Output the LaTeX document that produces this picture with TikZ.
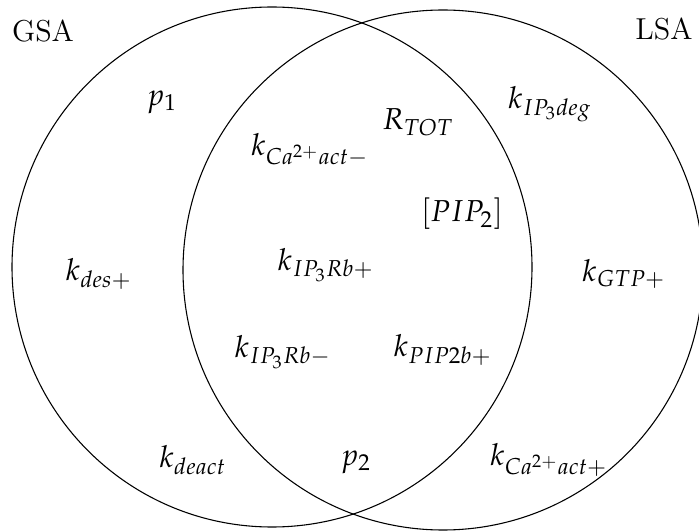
\documentclass[tikz,border=0pt]{standalone}
\usepackage{amsmath,amssymb}
\usepackage{mathpazo}
\usepackage{tikz}
\usetikzlibrary{positioning}

\begin{document}
\begin{tikzpicture}[
  x=0.37pt, y=-0.37pt,
  setline/.style = {draw=black, line width=0.4pt},
  par/.style     = {inner sep=1pt, font=\fontsize{11.2}{13}\selectfont},
  setname/.style = {inner sep=1pt, font=\fontsize{11.2}{13}\selectfont}
]
\useasboundingbox (0,0) rectangle (699,532);
% the two sets
\coordinate (gsac) at (272,267);
\coordinate (lsac) at (443,270);
\draw[setline] (gsac) circle[radius=260];
\draw[setline] (lsac) circle[radius=260];
\node[setname] (gsa) at (43,31) {GSA};
\node[setname] (lsa) at (664,29) {LSA};
% GSA only
\node[par] (p1)    at (162,102) {$p_1$};
\node[par] (kdes)  at (99,274)  {$k_{des+}$};
\node[par] (kdeact) at (193,460) {$k_{deact}$};
% both
\node[par] (rtot)  at (418,122) {$R_{TOT}$};
\node[par] (kcam)  at (310,150) {$k_{Ca^{2+}act-}$};
\node[par] (pip)   at (462,214) {$[PIP_2]$};
\node[par] (kipbp) at (326,265) {$k_{IP_3Rb+}$};
\node[par] (kipbm) at (283,352) {$k_{IP_3Rb-}$};
\node[par] (kpip)  at (443,350) {$k_{PIP2b+}$};
\node[par] (p2)    at (356,462) {$p_2$};
% LSA only
\node[par] (kdeg)  at (550,104) {$k_{IP_3deg}$};
\node[par] (kgtp)  at (624,274) {$k_{GTP+}$};
\node[par] (kcap)  at (549,460) {$k_{Ca^{2+}act+}$};
\end{tikzpicture}
\end{document}
